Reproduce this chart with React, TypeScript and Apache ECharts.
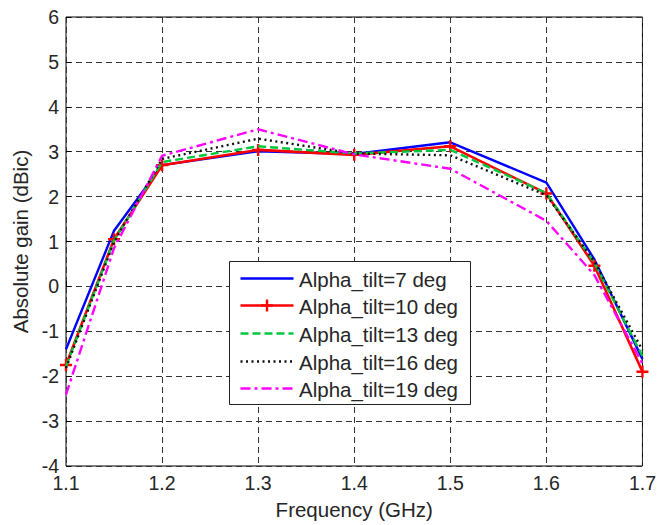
import React, { useEffect, useRef } from "react";
import * as echarts from "echarts";

// Frequency sweep (GHz)
const freqs = [1.1, 1.15, 1.2, 1.3, 1.4, 1.5, 1.6, 1.65, 1.7];

// Absolute gain (dBic) for each tilt angle
const tilt7 = [-1.4, 1.24, 2.7, 3.01, 2.95, 3.21, 2.31, 0.6, -1.62];
const tilt10 = [-1.75, 1.05, 2.7, 3.04, 2.93, 3.12, 2.07, 0.46, -1.9];
const tilt13 = [-1.78, 1.02, 2.77, 3.12, 2.96, 3.04, 2.08, 0.52, -1.55];
const tilt16 = [-1.82, 0.99, 2.84, 3.29, 2.96, 2.92, 2.03, 0.55, -1.42];
const tilt19 = [-2.41, 0.85, 2.91, 3.5, 2.94, 2.62, 1.46, 0.25, -1.72];

const seriesNames = [
  "Alpha_tilt=7 deg",
  "Alpha_tilt=10 deg",
  "Alpha_tilt=13 deg",
  "Alpha_tilt=16 deg",
  "Alpha_tilt=19 deg",
];

const FONT = "'Liberation Sans', Arial, Helvetica, sans-serif";
const TEXT = "#262626";
const PLUS = "path://M4,0H6V4H10V6H6V10H4V6H0V4H4Z";

// Line styles shared by the plotted series and the legend samples
const styles = [
  { color: "#0000ff", width: 2.4, dash: null as number[] | null, marker: false },
  { color: "#ff0000", width: 2.6, dash: null, marker: true },
  { color: "#00c83c", width: 2.4, dash: [8, 4], marker: false },
  { color: "#111111", width: 2.4, dash: [2, 3.5], marker: false },
  { color: "#ff00ff", width: 2.4, dash: [10, 4, 3, 4], marker: false },
];

const values = [tilt7, tilt10, tilt13, tilt16, tilt19];

const pair = (ys: number[]) => freqs.map((x, i) => [x, ys[i]]);

function legendGraphic() {
  const left = 229.5;
  const top = 261.5;
  const w = 241;
  const h = 143;
  const rowTop = 277.5;
  const pitch = 27.7;
  const Z = 100;
  const children: any[] = [
    {
      type: "rect",
      z: Z,
      shape: { x: left, y: top, width: w, height: h },
      style: { fill: "#fff", stroke: "#222", lineWidth: 1 },
    },
  ];
  styles.forEach((s, i) => {
    const y = Math.round(rowTop + i * pitch) + 0.5;
    children.push({
      type: "line",
      z: Z + 1,
      shape: { x1: 240.5, y1: y, x2: 293.5, y2: y },
      style: {
        stroke: s.color,
        lineWidth: s.width,
        lineDash: s.dash || undefined,
      },
    });
    if (s.marker) {
      children.push({
        type: "rect",
        z: Z + 2,
        shape: { x: 265.8, y: y - 6, width: 2.4, height: 12 },
        style: { fill: s.color },
      });
      children.push({
        type: "rect",
        z: Z + 2,
        shape: { x: 261, y: y - 1.2, width: 12, height: 2.4 },
        style: { fill: s.color },
      });
    }
    children.push({
      type: "text",
      z: Z + 1,
      x: 299,
      y: y + 0.5,
      style: {
        text: seriesNames[i],
        fontSize: 20.5,
        fontFamily: FONT,
        fill: TEXT,
        verticalAlign: "middle",
        align: "left",
      },
    });
  });
  return children;
}

export default function App() {
  const ref = useRef<HTMLDivElement>(null);

  useEffect(() => {
    if (!ref.current) return;
    const chart = echarts.init(ref.current, undefined, { renderer: "svg" });

    const gridLine = {
      lineStyle: { color: "#333", width: 1, type: [6, 4] as any },
    };

    chart.setOption({
      animation: false,
      backgroundColor: "#fff",
      textStyle: { fontFamily: FONT },
      grid: {
        left: 66,
        right: 15,
        top: 17,
        bottom: 56,
        show: true,
        borderColor: "#000",
        borderWidth: 1,
        backgroundColor: "transparent",
      },
      xAxis: {
        type: "value",
        min: 1.1,
        max: 1.7,
        interval: 0.1,
        name: "Frequency (GHz)",
        nameLocation: "middle",
        nameGap: 33,
        nameTextStyle: { fontSize: 20.5, color: TEXT, fontFamily: FONT },
        axisLine: { show: false },
        axisTick: { show: true, inside: true, length: 5, lineStyle: { color: "#000" } },
        axisLabel: {
          fontSize: 19.5,
          color: TEXT,
          margin: 7,
          fontFamily: FONT,
          formatter: (v: number) => v.toFixed(1),
        },
        splitLine: { show: true, ...gridLine },
      },
      yAxis: {
        type: "value",
        min: -4,
        max: 6,
        interval: 1,
        name: "Absolute gain (dBic)",
        nameLocation: "middle",
        nameRotate: 90,
        nameGap: 34,
        nameTextStyle: { fontSize: 20.5, color: TEXT, fontFamily: FONT },
        axisLine: { show: false },
        axisTick: { show: true, inside: true, length: 5, lineStyle: { color: "#000" } },
        axisLabel: { fontSize: 19.5, color: TEXT, margin: 7, fontFamily: FONT },
        splitLine: { show: true, ...gridLine },
      },
      graphic: legendGraphic(),
      series: styles.map((s, i) => ({
        name: seriesNames[i],
        type: "line",
        data: pair(values[i]),
        symbol: s.marker ? PLUS : "none",
        symbolSize: 12,
        showSymbol: s.marker,
        lineStyle: { color: s.color, width: s.width, type: s.dash || "solid" },
        itemStyle: { color: s.color },
        z: 2 + i,
      })),
    });

    return () => chart.dispose();
  }, []);

  return <div ref={ref} style={{ width: 659, height: 525, position: "absolute", left: 0, top: 0 }} />;
}
